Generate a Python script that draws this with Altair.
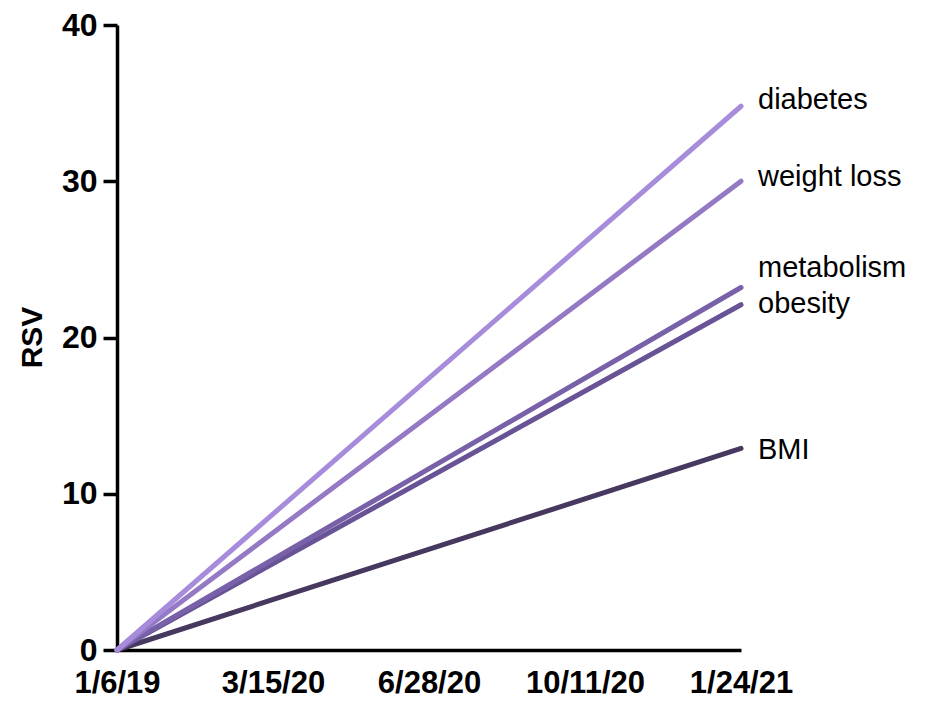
import altair as alt
import pandas as pd

dates = ["1/6/19", "3/15/20", "6/28/20", "10/11/20", "1/24/21"]
terms = ["BMI", "obesity", "metabolism", "weight loss", "diabetes"]
start_values = [0, 0, 0, 0, 0]
end_values = [12.9, 22.1, 23.2, 30.0, 34.8]
label_y = [12.2, 21.6, 23.9, 29.7, 34.6]
colors = ["#46385f", "#675395", "#7861a9", "#9479c5", "#a78cdc"]

rows = []
for i, t in enumerate(terms):
    rows.append({"term": t, "date": dates[0], "rsv": start_values[i], "order": i})
    rows.append({"term": t, "date": dates[-1], "rsv": end_values[i], "order": i})
lines_df = pd.DataFrame(rows)
labels_df = pd.DataFrame({"term": terms, "date": [dates[-1]] * len(terms), "ly": label_y})

x_enc = alt.X("date:O", scale=alt.Scale(type="point", domain=dates, padding=0),
              axis=alt.Axis(title=None, labelAngle=0, ticks=False, labelFontSize=31,
                            labelFont="Liberation Sans", labelFontWeight="bold",
                            labelPadding=18, domainWidth=3.5, domainColor="black",
                            labelColor="black"))
y_scale = alt.Scale(domain=[0, 40])

lines = alt.Chart(lines_df).mark_line(strokeWidth=5, strokeCap="round").encode(
    x=x_enc,
    y=alt.Y("rsv:Q", scale=y_scale,
            axis=alt.Axis(title="RSV", values=[0, 10, 20, 30, 40], grid=False,
                          labelFontSize=32, labelFont="Liberation Sans", labelFontWeight="bold",
                          labelColor="black", tickSize=14, tickWidth=3.5, tickColor="black",
                          domainWidth=3.5, domainColor="black", labelPadding=6,
                          titleFontSize=30, titleFont="Liberation Sans", titleFontWeight="bold",
                          titleColor="black", titleAngle=-90, titleX=-85, titleY=312,
                          titleAlign="center", titleBaseline="middle")),
    color=alt.Color("term:N", scale=alt.Scale(domain=terms, range=colors), legend=None),
    detail="term:N",
    order="order:Q",
)

texts = alt.Chart(labels_df).mark_text(align="left", baseline="alphabetic", dx=17,
                                       fontSize=29, font="Liberation Sans", color="black").encode(
    x=alt.X("date:O", scale=alt.Scale(type="point", domain=dates, padding=0)),
    y=alt.Y("ly:Q", scale=y_scale),
    text="term:N",
)

chart = alt.layer(lines, texts).properties(
    width=624, height=625,
    autosize=alt.AutoSizeParams(type="none"),
    padding={"left": 109, "top": 17, "right": 176, "bottom": 52},
).configure(background="white").configure_view(stroke=None, strokeWidth=0)

chart.save("out.html", embed_options={"renderer": "svg", "actions": False})
